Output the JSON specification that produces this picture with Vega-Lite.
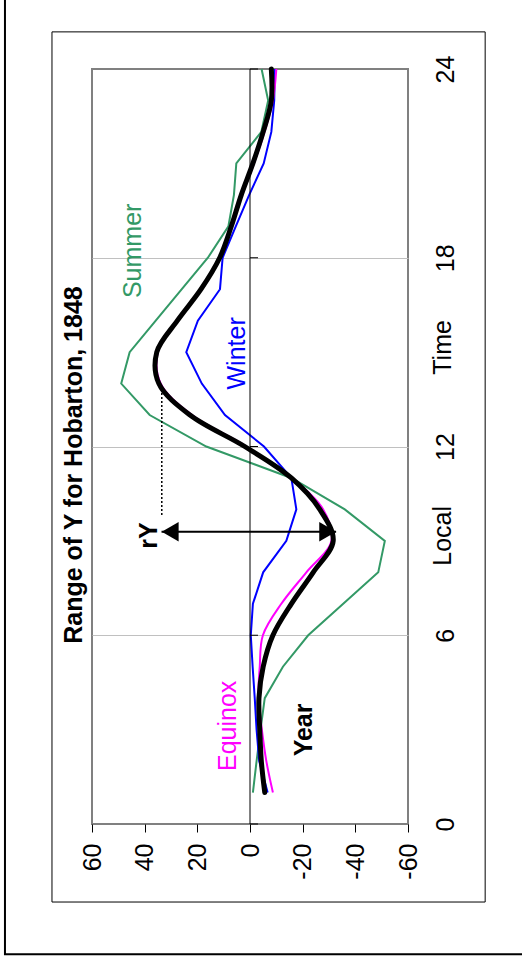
{
  "$schema": "https://vega.github.io/schema/vega-lite/v6.json",
  "width": 316,
  "height": 755,
  "autosize": {"type": "none"},
  "padding": {"left": 92, "top": 69, "right": 114, "bottom": 140},
  "background": "white",
  "config": {
    "view": {"stroke": "#808080", "strokeWidth": 2},
    "font": "Liberation Sans",
    "axis": {"labelFont": "Liberation Sans"}
  },
  "datasets": {
    "series": [
      {"series":"Summer","time":1,"value":-1.1},{"series":"Summer","time":2,"value":-2.5},{"series":"Summer","time":3,"value":-4.0},{"series":"Summer","time":4,"value":-5.6},
      {"series":"Summer","time":5,"value":-12.5},{"series":"Summer","time":6,"value":-22.1},{"series":"Summer","time":7,"value":-35.4},{"series":"Summer","time":8,"value":-48.7},
      {"series":"Summer","time":9,"value":-51.2},{"series":"Summer","time":10,"value":-36.0},{"series":"Summer","time":11,"value":-15.7},{"series":"Summer","time":12,"value":16.6},
      {"series":"Summer","time":13,"value":38.1},{"series":"Summer","time":14,"value":48.9},{"series":"Summer","time":15,"value":45.7},{"series":"Summer","time":16,"value":35.8},
      {"series":"Summer","time":17,"value":25.9},{"series":"Summer","time":18,"value":16.0},{"series":"Summer","time":19,"value":8.2},{"series":"Summer","time":20,"value":6.1},
      {"series":"Summer","time":21,"value":5.2},{"series":"Summer","time":22,"value":-4.3},{"series":"Summer","time":23,"value":-6.9},{"series":"Summer","time":24,"value":-4.4},
      {"series":"Winter","time":1,"value":-6.7},{"series":"Winter","time":2,"value":-3.5},{"series":"Winter","time":3,"value":-2.5},{"series":"Winter","time":4,"value":-1.8},
      {"series":"Winter","time":5,"value":-1.0},{"series":"Winter","time":6,"value":-0.3},{"series":"Winter","time":7,"value":-1.1},{"series":"Winter","time":8,"value":-5.0},
      {"series":"Winter","time":9,"value":-13.8},{"series":"Winter","time":10,"value":-17.6},{"series":"Winter","time":11,"value":-15.7},{"series":"Winter","time":12,"value":-5.3},
      {"series":"Winter","time":13,"value":9.5},{"series":"Winter","time":14,"value":18.3},{"series":"Winter","time":15,"value":24.2},{"series":"Winter","time":16,"value":19.8},
      {"series":"Winter","time":17,"value":11.4},{"series":"Winter","time":18,"value":10.4},{"series":"Winter","time":19,"value":5.4},{"series":"Winter","time":20,"value":0.3},
      {"series":"Winter","time":21,"value":-5.2},{"series":"Winter","time":22,"value":-8.1},{"series":"Winter","time":23,"value":-9.2},{"series":"Winter","time":24,"value":-9.4},
      {"series":"Equinox","time":1,"value":-8.7},{"series":"Equinox","time":2,"value":-6.2},{"series":"Equinox","time":3,"value":-4.5},{"series":"Equinox","time":4,"value":-3.2},
      {"series":"Equinox","time":5,"value":-3.7},{"series":"Equinox","time":6,"value":-4.9},{"series":"Equinox","time":7,"value":-11.9},{"series":"Equinox","time":8,"value":-21.4},
      {"series":"Equinox","time":9,"value":-30.9},{"series":"Equinox","time":10,"value":-27.8},{"series":"Equinox","time":11,"value":-15.7},{"series":"Equinox","time":12,"value":1.4},
      {"series":"Equinox","time":13,"value":22.0},{"series":"Equinox","time":14,"value":33.9},{"series":"Equinox","time":15,"value":35.0},{"series":"Equinox","time":16,"value":27.6},
      {"series":"Equinox","time":17,"value":18.8},{"series":"Equinox","time":18,"value":11.5},{"series":"Equinox","time":19,"value":7.0},{"series":"Equinox","time":20,"value":3.0},
      {"series":"Equinox","time":21,"value":-1.5},{"series":"Equinox","time":22,"value":-5.5},{"series":"Equinox","time":23,"value":-8.7},{"series":"Equinox","time":24,"value":-10.0},
      {"series":"Year","time":1,"value":-5.6},{"series":"Year","time":2,"value":-4.3},{"series":"Year","time":3,"value":-3.7},{"series":"Year","time":4,"value":-3.4},
      {"series":"Year","time":5,"value":-5.0},{"series":"Year","time":6,"value":-8.7},{"series":"Year","time":7,"value":-15.7},{"series":"Year","time":8,"value":-24.0},
      {"series":"Year","time":9,"value":-31.6},{"series":"Year","time":10,"value":-26.5},{"series":"Year","time":11,"value":-15.7},{"series":"Year","time":12,"value":2.0},
      {"series":"Year","time":13,"value":22.8},{"series":"Year","time":14,"value":34.6},{"series":"Year","time":15,"value":35.4},{"series":"Year","time":16,"value":27.6},
      {"series":"Year","time":17,"value":18.6},{"series":"Year","time":18,"value":11.5},{"series":"Year","time":19,"value":7.1},{"series":"Year","time":20,"value":3.3},
      {"series":"Year","time":21,"value":-1.1},{"series":"Year","time":22,"value":-5.0},{"series":"Year","time":23,"value":-8.1},{"series":"Year","time":24,"value":-8.1}
    ],
    "labels": [
      {"kind":"series","label":"Summer","series":"Summer","time":18.22,"value":44.3},
      {"kind":"series","label":"Winter","series":"Winter","time":14.96,"value":4.9},
      {"kind":"series","label":"Equinox","series":"Equinox","time":3.12,"value":8.2},
      {"kind":"bold","label":"Year","time":2.99,"value":-20.5},
      {"kind":"bold","label":"rY","time":9.17,"value":38.5},
      {"kind":"bold","label":"Range of Y for Hobarton, 1848","time":11.41,"value":66.8},
      {"kind":"plain","label":"Local","time":9.16,"value":-73.3},
      {"kind":"plain","label":"Time","time":15.15,"value":-73.3}
    ],
    "ticks": [{"time":0},{"time":6},{"time":12},{"time":18},{"time":24}],
    "arrow": [{"time":9.29,"from":33.6,"to":-32.7}],
    "heads": [{"time":9.29,"value":30.3,"end":"left"},{"time":9.29,"value":-29.5,"end":"right"}],
    "dots": [{"time":9.82,"time2":13.8,"value":33.5}]
  },
  "layer": [
    {
      "data": {"name": "series"},
      "transform": [{"filter": "datum.series == 'Summer' || datum.series == 'Winter'"}],
      "mark": {"type": "line", "strokeWidth": 2, "interpolate": "linear", "clip": false},
      "encoding": {
        "x": {"field": "value", "type": "quantitative", "title": null,
          "scale": {"domain": [-60, 60], "reverse": true, "nice": false, "zero": false},
          "axis": {"orient": "bottom", "values": [60, 40, 20, 0, -20, -40, -60], "grid": false, "domain": false,
            "ticks": true, "tickSize": 8, "tickColor": "#000", "tickWidth": 1,
            "labelAngle": 270, "labelAlign": "right", "labelBaseline": "middle", "labelFontSize": 25,
            "labelColor": "#000", "labelPadding": 11, "labelFlush": false, "labelOverlap": false, "labelBound": false,
            "labelExpr": "'' + datum.value", "title": null}},
        "y": {"field": "time", "type": "quantitative", "title": null,
          "scale": {"domain": [0, 24], "nice": false, "zero": false},
          "axis": {"orient": "right", "values": [0, 6, 12, 18, 24], "grid": true,
            "gridColor": {"condition": {"test": "datum.value == 0 || datum.value == 24", "value": "transparent"}, "value": "#c0c0c0"},
            "gridWidth": 1, "domain": false, "ticks": false, "tickSize": 0,
            "labelAngle": 270, "labelAlign": "center", "labelBaseline": "middle", "labelFontSize": 25,
            "labelColor": "#000", "labelPadding": 37, "labelFlush": false, "labelOverlap": false, "labelBound": false,
            "title": null}},
        "order": {"field": "time", "type": "quantitative"},
        "color": {"field": "series", "type": "nominal", "legend": null,
          "scale": {"domain": ["Summer", "Winter", "Equinox", "Year"], "range": ["#339966", "#0000ff", "#ff00ff", "#000000"]}}
      }
    },
    {
      "data": {"name": "series"},
      "transform": [{"filter": "datum.series == 'Equinox'"}],
      "mark": {"type": "line", "strokeWidth": 2, "interpolate": "catmull-rom", "clip": false},
      "encoding": {
        "x": {"field": "value", "type": "quantitative", "title": null},
        "y": {"field": "time", "type": "quantitative", "title": null},
        "order": {"field": "time", "type": "quantitative"},
        "color": {"field": "series", "type": "nominal", "legend": null}
      }
    },
    {
      "data": {"name": "series"},
      "transform": [{"filter": "datum.series == 'Year'"}],
      "mark": {"type": "line", "strokeWidth": 5, "interpolate": "catmull-rom", "strokeCap": "round", "strokeJoin": "round", "clip": false},
      "encoding": {
        "x": {"field": "value", "type": "quantitative", "title": null},
        "y": {"field": "time", "type": "quantitative", "title": null},
        "order": {"field": "time", "type": "quantitative"},
        "color": {"field": "series", "type": "nominal", "legend": null}
      }
    },
    {
      "data": {"values": [{}]},
      "mark": {"type": "rule", "color": "#000", "strokeWidth": 1},
      "encoding": {
        "x": {"datum": 0, "title": null},
        "y": {"datum": 0, "title": null},
        "y2": {"datum": 24}
      }
    },
    {
      "data": {"name": "ticks"},
      "mark": {"type": "rule", "color": "#000", "strokeWidth": 1},
      "encoding": {
        "x": {"datum": 0, "title": null},
        "x2": {"datum": -3.04},
        "y": {"field": "time", "type": "quantitative", "title": null}
      }
    },
    {
      "data": {"values": [{}]},
      "mark": {"type": "rect", "fillOpacity": 0, "stroke": "#000", "strokeWidth": 1, "clip": false},
      "encoding": {
        "x": {"datum": 75.2, "title": null},
        "x2": {"datum": -89.3},
        "y": {"datum": -2.48, "title": null},
        "y2": {"datum": 25.18}
      }
    },
    {
      "data": {"values": [{}]},
      "mark": {"type": "rect", "fillOpacity": 0, "stroke": "#000", "strokeWidth": 2, "clip": false},
      "encoding": {
        "x": {"datum": 93.05, "title": null},
        "x2": {"datum": -160},
        "y": {"datum": -4.14, "title": null},
        "y2": {"datum": 31}
      }
    },
    {
      "data": {"name": "dots"},
      "mark": {"type": "rule", "color": "#000", "strokeWidth": 1.5, "strokeDash": [2, 2]},
      "encoding": {
        "x": {"field": "value", "type": "quantitative", "title": null},
        "y": {"field": "time", "type": "quantitative", "title": null},
        "y2": {"field": "time2"}
      }
    },
    {
      "data": {"name": "arrow"},
      "mark": {"type": "rule", "color": "#000", "strokeWidth": 2},
      "encoding": {
        "x": {"field": "from", "type": "quantitative", "title": null},
        "x2": {"field": "to"},
        "y": {"field": "time", "type": "quantitative", "title": null}
      }
    },
    {
      "data": {"name": "heads"},
      "mark": {"type": "point", "filled": true, "color": "#000", "opacity": 1, "size": 380},
      "encoding": {
        "x": {"field": "value", "type": "quantitative", "title": null},
        "y": {"field": "time", "type": "quantitative", "title": null},
        "shape": {"field": "end", "type": "nominal", "legend": null,
          "scale": {"domain": ["left", "right"], "range": ["triangle-left", "triangle-right"]}}
      }
    },
    {
      "data": {"name": "labels"},
      "transform": [{"filter": "datum.kind == 'series'"}],
      "mark": {"type": "text", "angle": 270, "align": "center", "baseline": "middle", "fontSize": 25, "font": "Liberation Sans"},
      "encoding": {
        "x": {"field": "value", "type": "quantitative", "title": null},
        "y": {"field": "time", "type": "quantitative", "title": null},
        "text": {"field": "label"},
        "color": {"field": "series", "type": "nominal", "legend": null}
      }
    },
    {
      "data": {"name": "labels"},
      "transform": [{"filter": "datum.kind == 'bold'"}],
      "mark": {"type": "text", "angle": 270, "align": "center", "baseline": "middle", "fontSize": 25, "fontWeight": "bold", "font": "Liberation Sans", "color": "#000"},
      "encoding": {
        "x": {"field": "value", "type": "quantitative", "title": null},
        "y": {"field": "time", "type": "quantitative", "title": null},
        "text": {"field": "label"}
      }
    },
    {
      "data": {"name": "labels"},
      "transform": [{"filter": "datum.kind == 'plain'"}],
      "mark": {"type": "text", "angle": 270, "align": "center", "baseline": "middle", "fontSize": 25, "font": "Liberation Sans", "color": "#000"},
      "encoding": {
        "x": {"field": "value", "type": "quantitative", "title": null},
        "y": {"field": "time", "type": "quantitative", "title": null},
        "text": {"field": "label"}
      }
    }
  ]
}
